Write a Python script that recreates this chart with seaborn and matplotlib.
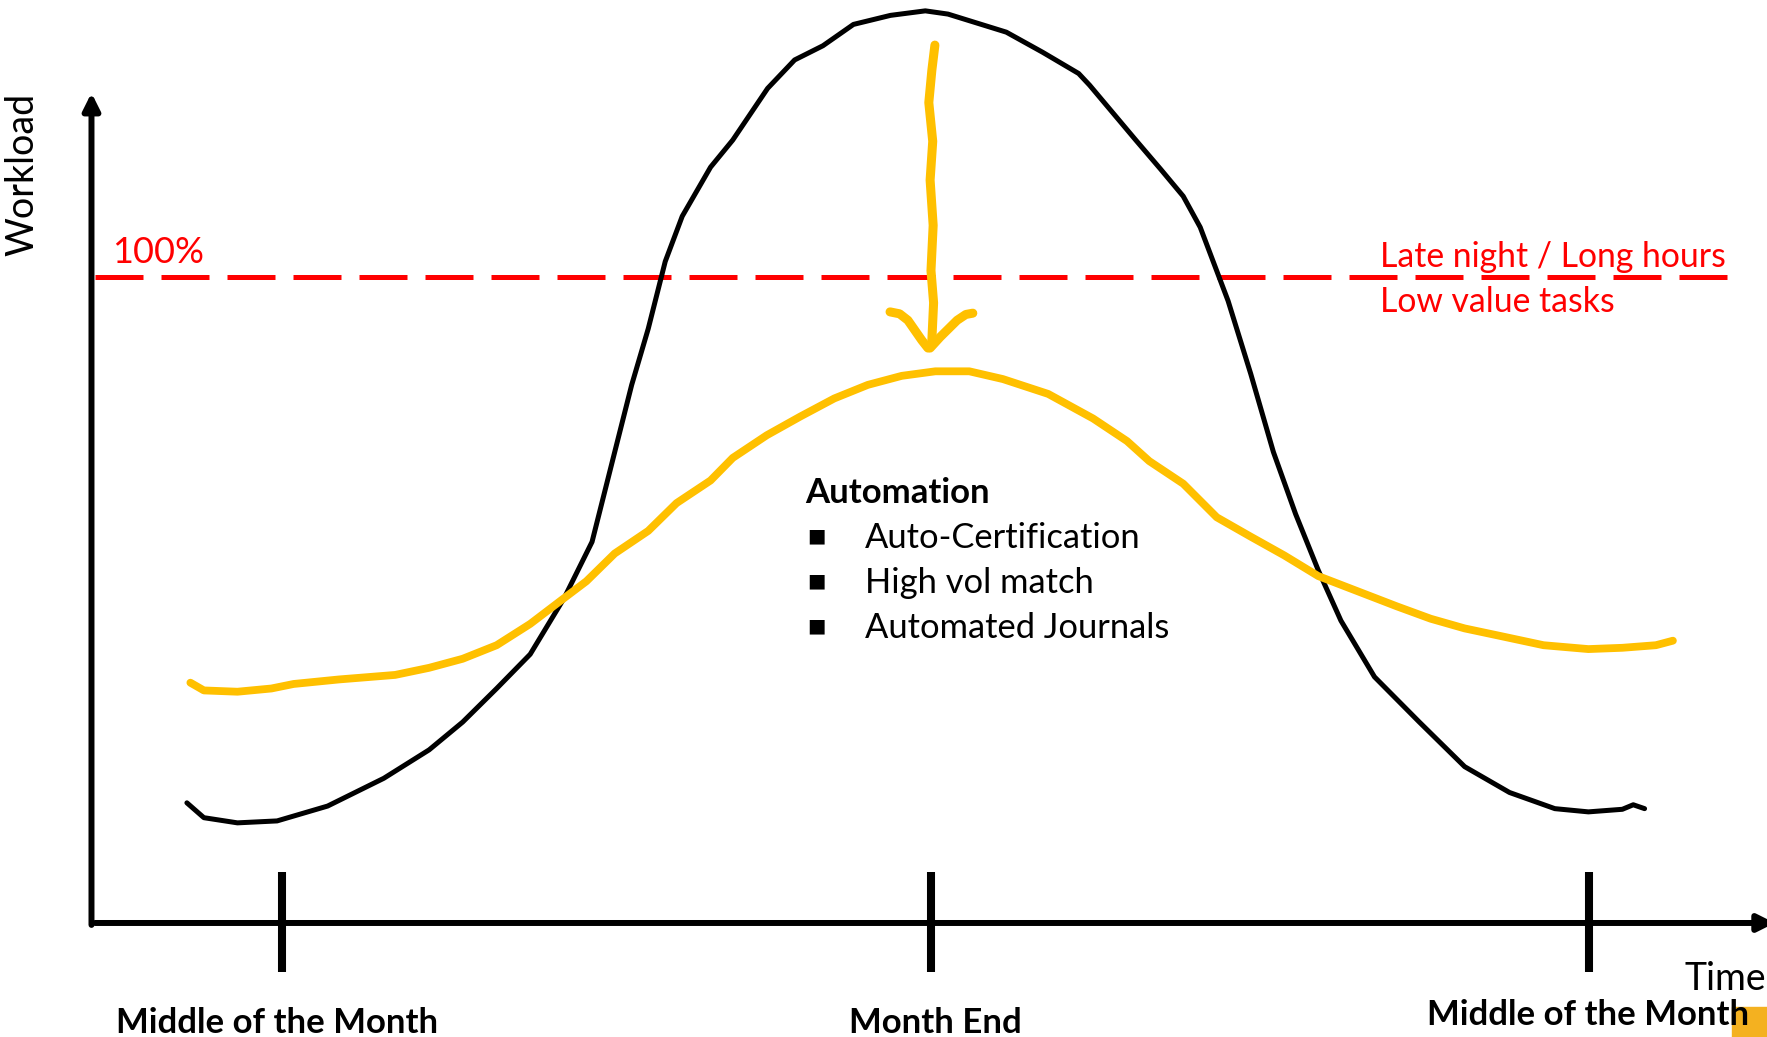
import matplotlib
matplotlib.use("Agg")
import matplotlib.pyplot as plt
from matplotlib.patches import Rectangle
import seaborn as sns
import pandas as pd

# Workload curves (x = days around month end, y = % of capacity)
black_day = [-17.08, -16.69, -15.92, -15.01, -13.85, -12.56, -11.52, -10.75, -9.97, -9.20,
             -8.42, -7.78, -7.26, -6.87, -6.49, -6.10, -5.71, -5.06, -4.55, -3.75,
             -3.13, -2.48, -1.78, -0.93, -0.13, 0.39, 1.73, 2.56, 3.39, 3.64,
             4.70, 5.27, 5.79, 6.18, 6.82, 7.34, 7.86, 8.37, 8.89, 9.41,
             10.18, 11.21, 12.25, 13.28, 14.32, 15.09, 15.87, 16.12, 16.38]
black_workload = [18.6, 16.3, 15.5, 15.8, 18.1, 22.4, 26.8, 31.1, 36.3, 41.6,
                  50.3, 59.0, 72.9, 83.3, 92.0, 102.4, 109.4, 117.0, 121.2, 129.2,
                  133.6, 135.8, 139.1, 140.5, 141.2, 140.7, 137.9, 134.8, 131.5, 129.7,
                  121.2, 116.7, 112.5, 107.7, 96.3, 85.0, 72.9, 63.3, 54.6, 46.8,
                  38.1, 31.1, 24.2, 20.2, 17.7, 17.2, 17.6, 18.3, 17.7]

yellow_day = [-17.00, -16.69, -15.92, -15.14, -14.63, -13.59, -12.30, -11.52, -10.75, -9.97,
              -9.20, -8.42, -7.91, -7.26, -6.49, -5.84, -5.06, -4.55, -3.77, -3.00,
              -2.22, -1.45, -0.67, 0.10, 0.88, 1.65, 2.69, 3.72, 4.50, 5.01,
              5.79, 6.56, 7.34, 8.11, 8.89, 9.66, 10.70, 11.47, 12.25, 13.02,
              14.06, 15.09, 15.87, 16.64, 17.03]
yellow_workload = [37.2, 36.0, 35.8, 36.3, 37.0, 37.7, 38.4, 39.5, 40.9, 43.0,
                   46.3, 50.3, 52.9, 57.2, 60.7, 65.0, 68.5, 72.0, 75.5, 78.4,
                   81.2, 83.3, 84.7, 85.4, 85.4, 84.2, 81.9, 78.1, 74.6, 71.5,
                   68.0, 62.8, 59.8, 56.9, 53.7, 51.7, 49.0, 47.1, 45.6, 44.5,
                   43.0, 42.4, 42.6, 43.0, 43.7]

# hand drawn arrow pushing the peak down
shaft_day = [0.09, 0.02, -0.05, 0.04, -0.02, 0.05, 0.00, 0.06, 0.02]
shaft_workload = [135.9, 132.0, 127.0, 121.0, 115.0, 108.0, 101.0, 96.0, 90.2]
left_leg_day = [-0.94, -0.72, -0.53, -0.21, -0.07]
left_leg_workload = [94.6, 94.3, 93.3, 90.2, 89.0]
right_leg_day = [0.96, 0.80, 0.60, 0.21, -0.02]
right_leg_workload = [94.4, 94.2, 93.3, 90.7, 89.0]

capacity = 100
tick_days = [-14.9, 0, 15.1]
tick_labels = ["Middle of the Month", "Month End", "Middle of the Month"]
label_days = [-15.0, 0.1, 15.08]
label_base = [-17.0, -17.0, -15.8]
automation_items = ["Auto-Certification", "High vol match", "Automated Journals"]

BLACK = "black"
YELLOW = "#FFC000"
RED = "#FF0000"

sns.set_theme(style="white")
plt.rcParams["font.family"] = ["Lato", "DejaVu Sans"]

fig = plt.figure(figsize=(17.67, 10.37), dpi=100)
ax = fig.add_axes([0, 0, 1, 1])
ax.set_xlim(-21.37, 19.19)
ax.set_ylim(-17.65, 142.88)
ax.set_axis_off()

df_black = pd.DataFrame({"day": black_day, "workload": black_workload})
df_yellow = pd.DataFrame({"day": yellow_day, "workload": yellow_workload})

sns.lineplot(data=df_black, x="day", y="workload", sort=False, estimator=None,
             color=BLACK, lw=3.6, ax=ax, legend=False, solid_capstyle="round",
             solid_joinstyle="round", zorder=4)
sns.lineplot(data=df_yellow, x="day", y="workload", sort=False, estimator=None,
             color=YELLOW, lw=5.6, ax=ax, legend=False, solid_capstyle="round",
             solid_joinstyle="round", zorder=5)
for xs, ys in [(shaft_day, shaft_workload), (left_leg_day, left_leg_workload),
               (right_leg_day, right_leg_workload)]:
    sns.lineplot(x=xs, y=ys, sort=False, estimator=None, color=YELLOW, lw=6.5,
                 ax=ax, legend=False, solid_capstyle="round",
                 solid_joinstyle="round", zorder=5)

# 100% capacity line
ax.hlines(capacity, -19.19, 18.27, colors=RED, lw=3.6,
          linestyles=(0, (9.6, 3.6)), zorder=3)

# axes drawn as arrows
arrow = dict(arrowstyle="-|>,head_length=1.0,head_width=0.5", color=BLACK,
             lw=4.3, mutation_scale=10, shrinkA=0, shrinkB=0)
ax.annotate("", xy=(-19.27, 128.5), xytext=(-19.27, -0.3), arrowprops=arrow, zorder=6)
ax.annotate("", xy=(19.37, 0), xytext=(-19.19, 0), arrowprops=arrow, zorder=6,
            annotation_clip=False)
ax.vlines(tick_days, -7.6, 7.9, colors=BLACK, lw=5.8, zorder=6)

for d, b, lab in zip(label_days, label_base, tick_labels):
    ax.text(d, b, lab, ha="center", va="baseline", fontsize=25,
            fontweight="bold", color=BLACK, zorder=8)

ax.text(17.3, -10.4, "Time", ha="left", va="baseline", fontsize=27, color=BLACK)
ax.text(-20.86, 115.8, "Workload", rotation=90, ha="center", va="center",
        fontsize=27, color=BLACK)

ax.text(-18.8, 102.2, "100%", ha="left", va="baseline", fontsize=26, color=RED)
ax.text(10.3, 101.5, "Late night / Long hours", ha="left", va="baseline",
        fontsize=24.3, color=RED)
ax.text(10.3, 94.6, "Low value tasks", ha="left", va="baseline",
        fontsize=24.3, color=RED)

ax.text(-2.89, 65.0, "Automation", ha="left", va="baseline", fontsize=25,
        fontweight="bold", color=BLACK)
for i, item in enumerate(automation_items):
    yb = 58.0 - i * 6.95
    ax.text(-2.85, yb + 1.0, "\u25a0", ha="left", va="baseline", fontsize=14,
            family=["DejaVu Sans"], color=BLACK)
    ax.text(-1.51, yb, item, ha="left", va="baseline", fontsize=24.8, color=BLACK)

# little highlight square in the bottom-right corner
ax.add_patch(Rectangle((1732 / 1767, 0), 40 / 1767, 30 / 1037,
                       transform=ax.transAxes, color="#F4B120", zorder=1, clip_on=False))

fig.savefig("out.png", dpi=100)
